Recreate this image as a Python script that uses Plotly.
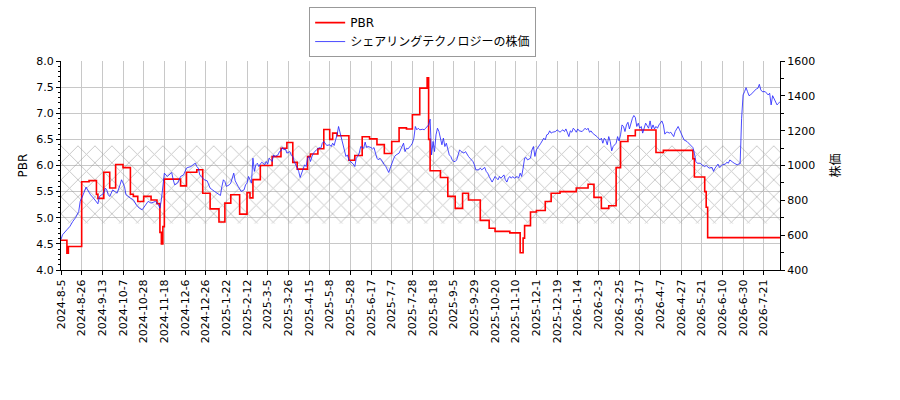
import plotly.graph_objects as go

# ---- data ----
tick_labels = ["2024-8-5", "2024-8-26", "2024-9-13", "2024-10-7", "2024-10-28", "2024-11-18",
               "2024-12-6", "2024-12-26", "2025-1-22", "2025-2-12", "2025-3-5", "2025-3-26",
               "2025-4-15", "2025-5-8", "2025-5-28", "2025-6-17", "2025-7-7", "2025-7-28",
               "2025-8-18", "2025-9-5", "2025-9-29", "2025-10-20", "2025-11-10", "2025-12-1",
               "2025-12-19", "2026-1-14", "2026-2-3", "2026-2-25", "2026-3-17", "2026-4-7",
               "2026-4-27", "2026-5-21", "2026-6-10", "2026-6-30", "2026-7-21"]
days_per_tick = 14  # trading days between labelled ticks

# PBR: trading-day index where the value changes, and the new value
pbr_day = [0, 4, 5, 14, 19, 24, 25, 29, 33, 37, 42, 47, 49, 52, 56, 61, 65, 67, 68, 69, 70,
           81, 85, 92, 96, 101, 107, 111, 115, 121, 126, 128, 130, 135, 143, 149, 153, 157,
           160, 167, 169, 174, 178, 182, 184, 187, 195, 199, 204, 209, 214, 219, 224, 229,
           234, 238, 243, 248, 249, 250, 257, 262, 267, 272, 276, 284, 290, 294, 304, 311,
           313, 314, 318, 322, 328, 332, 338, 349, 357, 361, 366, 371, 376, 379, 384, 389,
           403, 408, 428, 429, 436, 437, 438, 487]
pbr_val = [4.57, 4.32, 4.45, 5.69, 5.71, 5.45, 5.37, 5.87, 5.57, 6.02, 5.96, 5.45, 5.41, 5.31,
           5.41, 5.34, 5.27, 4.72, 4.50, 4.83, 5.74, 5.61, 5.87, 5.92, 5.47, 5.17, 4.92, 5.28,
           5.44, 5.07, 5.48, 5.38, 5.73, 6.00, 6.17, 6.33, 6.44, 6.06, 5.93, 6.17, 6.22, 6.32,
           6.69, 6.50, 6.62, 6.57, 6.10, 6.19, 6.55, 6.51, 6.40, 6.23, 6.46, 6.72, 6.70, 6.97,
           7.48, 7.68, 6.50, 5.90, 5.77, 5.41, 5.18, 5.47, 5.34, 4.95, 4.80, 4.74, 4.71, 4.33,
           4.61, 4.85, 5.11, 5.14, 5.31, 5.47, 5.50, 5.57, 5.64, 5.39, 5.18, 5.23, 5.96, 6.46,
           6.57, 6.68, 6.25, 6.29, 6.13, 5.78, 5.50, 5.20, 4.62, 4.62]

# share price (trading-day index, price)
price_day = [0, 1, 4, 6, 8, 10, 12, 13, 15, 16, 17, 18, 20, 22, 24, 25, 26, 29, 30, 31, 32, 33,
             35, 38, 40, 41, 43, 44, 47, 49, 51, 53, 55, 57, 59, 61, 64, 66, 67, 68, 69, 70, 72,
             73, 75, 76, 77, 79, 81, 83, 85, 86, 88, 90, 91, 92, 93, 94, 96, 97, 99,
             101, 104, 106, 108, 109, 110, 111, 112, 114, 115, 117, 118, 120, 122, 124, 125,
             126, 127, 129, 130, 131, 132, 133, 134, 135, 136, 138, 139, 140, 141, 142, 143,
             144, 145, 147, 148, 149, 150, 151, 152, 153, 155, 156, 157, 158, 159, 160, 161,
             162, 164, 165, 166, 167, 168, 169, 170, 171, 173, 174, 175, 176, 177, 178, 179,
             180, 182, 183, 184, 185, 186, 187, 188, 190, 191, 192, 193, 194, 195, 196,
             198, 199, 200, 201, 202, 203, 205, 206, 207, 208, 210, 211, 212, 213, 214, 215,
             216, 217, 218, 219, 220, 221, 222, 223, 224, 225, 226, 227, 229, 230, 231, 232,
             233, 234, 235, 236, 237, 238, 239, 240, 241, 242, 243, 245, 246, 247, 248, 249,
             250, 251, 252, 253, 254, 255, 256, 257, 258, 259, 260, 261, 262, 263, 264, 265,
             266, 267, 268, 269, 270, 271, 273, 274, 275, 276, 277, 278, 279, 280, 281, 283,
             284, 285, 286, 287, 288, 289, 290, 291, 292,
             294, 295, 296, 297, 298, 300, 301, 302, 303, 304, 305, 306, 307, 309, 310, 311,
             312, 313, 314, 315, 316, 318, 319, 320, 321, 322, 323, 324, 325, 327, 328, 329,
             330, 331, 332, 333, 335, 336, 337, 338, 339, 340, 341, 342, 344, 345, 346, 347,
             348, 349, 350, 351, 353, 354, 355, 356, 357, 358, 359, 360, 362, 363, 364, 365,
             366, 367, 368, 369, 370, 371, 372, 373, 374, 376, 377, 378, 379, 380, 381, 382,
             383, 384, 385, 386, 387, 388, 389, 390, 391,
             392, 393, 394, 395, 396, 398, 399, 400, 401, 402, 403, 404, 405, 407, 408, 409,
             410, 411, 412, 413, 415, 416, 417, 418, 419, 420, 421, 422, 424, 425, 426, 427,
             428, 429, 430, 431, 433, 434, 435, 436, 437, 438, 439, 441, 442, 443, 444, 445,
             446, 447, 448, 450, 451, 452, 453, 454, 455, 456, 458, 459, 460, 461, 462, 463,
             464, 465, 466, 467, 469, 470, 471, 472, 473, 474, 475, 477, 478, 479, 480, 481,
             482, 483, 484, 485, 486, 487]
price_val = [575, 602, 631, 650, 679, 702, 736, 794, 832, 860, 876, 860, 832, 813, 794, 780, 822,
             841, 870, 860, 832, 822, 860, 841, 889, 918, 880, 832, 813, 803, 774, 755, 746, 774,
             794, 784, 794, 774, 755, 803, 889, 956, 937, 946, 960, 918, 889, 899, 937, 946, 985,
             989, 994, 1008, 1013, 994, 985, 946, 930, 918, 912,
             870, 851, 841, 828, 880, 918, 908, 880, 889, 899, 956, 912, 880, 851, 860, 889,
             899, 937, 899, 1042, 966, 1004, 1013, 994, 1008, 1019, 1004, 1023, 1008, 1042, 1032,
             1023, 1061, 1052, 1061, 1080, 1084, 1103, 1090, 1095, 1071, 1080, 1061, 1052, 1023,
             1004, 994, 966, 931, 985, 1004, 994, 1042, 1052, 1023, 1052, 1071, 1090, 1099, 1103,
             1099, 1128, 1138, 1128, 1115, 1119, 1109, 1128, 1115, 1147, 1176, 1224, 1157, 1122,
             1090, 1052, 1061, 1032, 1023,
             1008, 994, 1042, 1052, 1071, 1109, 1099, 1134, 1103, 1109, 1103, 1095, 1103, 1071,
             1042, 1032, 1042, 1032, 1013, 1004, 994, 975, 960, 985, 1013, 1032, 1052, 1061, 1071,
             1090, 1109, 1128, 1080, 1099, 1095, 1109, 1115, 1128, 1157, 1224, 1205, 1214, 1205,
             1208, 1205, 1214, 1224, 1233, 1266, 1061, 1138, 1080, 1176, 1214, 1195, 1147, 1119,
             1157, 1109, 1128, 1090, 1061, 1052, 1032, 1023, 1023, 1032, 1061, 1090, 1080, 1071,
             1080, 1061, 1052, 1042, 1032, 1023, 1004, 975, 975, 985, 975, 985, 989, 966, 956,
             937, 924, 905,
             937, 927, 918, 937, 927, 946, 918, 905, 927, 937, 927, 937, 927, 937, 927, 956, 937,
             985, 1042, 1046, 1032, 1042, 1090, 1109, 1052, 1090, 1103, 1109, 1128, 1157, 1147,
             1176, 1180, 1199, 1186, 1191, 1195, 1205, 1199, 1191, 1199, 1205, 1195, 1210, 1166,
             1199, 1191, 1214, 1205, 1191, 1210, 1199, 1195, 1205, 1214, 1205, 1214, 1191, 1199,
             1186, 1176, 1166, 1157, 1147, 1157, 1128, 1157, 1147, 1119, 1166, 1138, 1084, 1109,
             1128, 1166, 1141, 1176, 1233, 1224, 1195, 1233, 1248, 1210, 1243, 1270, 1287, 1276,
             1224, 1243,
             1214, 1224, 1186, 1224, 1243, 1214, 1256, 1210, 1233, 1210, 1224, 1214, 1233, 1256,
             1233, 1180, 1191, 1191, 1186, 1191, 1166, 1195, 1210, 1224, 1205, 1186, 1160, 1147,
             1138, 1128, 1122, 1109, 1103, 1071, 1023, 1013, 1013, 1004, 1000, 994, 1000, 994, 985,
             989, 966, 985, 994, 1008, 989, 994, 1004, 1008, 1019, 1013, 1032, 1023, 1019, 1013,
             1004, 1008, 1010, 1271, 1405, 1424, 1447, 1424, 1401, 1405, 1424, 1434, 1440, 1443,
             1466, 1434, 1424, 1424, 1415, 1405, 1415, 1348, 1401, 1386, 1367, 1348, 1357, 1367]

band_pbr = [4.89, 6.38]  # hatched PBR range
series_names = ["PBR", "シェアリングテクノロジーの株価"]

# ---- figure ----
FONT = "DejaVu Sans, Noto Sans CJK JP, sans-serif"
tick_day = [days_per_tick * i for i in range(len(tick_labels))]
x_first, x_last = pbr_day[0], pbr_day[-1]

fig = go.Figure()
fig.add_trace(go.Scatter(
    x=[x_first, x_last, x_last, x_first, x_first],
    y=[band_pbr[0], band_pbr[0], band_pbr[1], band_pbr[1], band_pbr[0]],
    mode="lines", line=dict(width=0), fill="toself", fillcolor="rgba(0,0,0,0)",
    fillpattern=dict(shape="x", fgcolor="#8c8c8c", bgcolor="rgba(0,0,0,0)",
                     size=12, solidity=0.15),
    showlegend=False, hoverinfo="skip"))
fig.add_trace(go.Scatter(
    x=pbr_day, y=pbr_val, mode="lines", name=series_names[0],
    line=dict(color="#ff0000", width=1.6, shape="hv")))
fig.add_trace(go.Scatter(
    x=price_day, y=price_val, mode="lines", name=series_names[1], yaxis="y2",
    line=dict(color="rgba(30,30,255,0.8)", width=1)))

axis_common = dict(showline=True, linecolor="black", linewidth=1, zeroline=False,
                   ticks="outside", ticklen=4, tickcolor="black",
                   tickfont=dict(family=FONT, size=11, color="black"))

fig.update_layout(
    width=900, height=400,
    margin=dict(l=61, r=120, t=61, b=130, pad=0, autoexpand=False),
    paper_bgcolor="white", plot_bgcolor="white",
    font=dict(family=FONT, size=11, color="black"),
    showlegend=True,
    legend=dict(x=0.503, xanchor="center", y=1.258, yanchor="top",
                bgcolor="white", bordercolor="#999999", borderwidth=1,
                font=dict(family=FONT, size=12, color="black"),
                tracegroupgap=0),
    xaxis=dict(range=[x_first, x_last], tickmode="array", tickvals=tick_day,
               ticktext=tick_labels, tickangle=-90, showgrid=True,
               gridcolor="#c8c8c8", gridwidth=1, **axis_common),
    yaxis=dict(range=[4, 8], tickmode="linear", tick0=4, dtick=0.5, tickformat=".1f",
               showgrid=True, gridcolor="#c8c8c8", gridwidth=1,
               minor=dict(dtick=0.1, tick0=4, ticks="outside", ticklen=2,
                          tickcolor="black", showgrid=False),
               title=dict(text="PBR", font=dict(family=FONT, size=12), standoff=6),
               **axis_common),
    yaxis2=dict(range=[400, 1600], overlaying="y", side="right", tickmode="linear",
                tick0=400, dtick=200, showgrid=False,
                minor=dict(dtick=100, tick0=400, ticks="outside", ticklen=3,
                           tickcolor="black", showgrid=False),
                title=dict(text="株価", font=dict(family=FONT, size=12), standoff=17),
                **axis_common),
    hovermode=False,
)

fig.write_html("out.html", config={"displayModeBar": False},
               post_script="document.body.style.margin='0';")
